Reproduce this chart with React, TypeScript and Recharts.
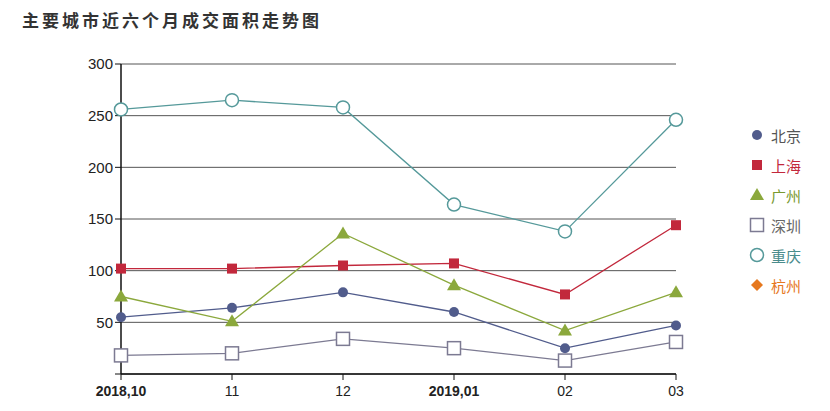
import { LineChart, Line, XAxis, YAxis, CartesianGrid } from "recharts";

const months = ["2018,10", "11", "12", "2019,01", "02", "03"];
const boldMonths = ["2018,10", "2019,01"];
const yTicks = [0, 50, 100, 150, 200, 250, 300];

const beijing = [55, 64, 79, 60, 25, 47];
const shanghai = [102, 102, 105, 107, 77, 144];
const guangzhou = [75, 51, 136, 86, 42, 79];
const shenzhen = [18, 20, 34, 25, 13, 31];
const chongqing = [256, 265, 258, 164, 138, 246];
const hangzhou: (number | null)[] = [null, null, null, null, null, null];

type Marker = "circle" | "square" | "triangle" | "hollowSquare" | "hollowCircle" | "diamond";

const series: { key: string; name: string; color: string; text: string; marker: Marker; values: (number | null)[] }[] = [
  { key: "bj", name: "北京", color: "#515c8c", text: "#555", marker: "circle", values: beijing },
  { key: "sh", name: "上海", color: "#c2283c", text: "#c2283c", marker: "square", values: shanghai },
  { key: "gz", name: "广州", color: "#8ba83c", text: "#7a9a30", marker: "triangle", values: guangzhou },
  { key: "sz", name: "深圳", color: "#7c7a92", text: "#666", marker: "hollowSquare", values: shenzhen },
  { key: "cq", name: "重庆", color: "#55999a", text: "#4a8c8c", marker: "hollowCircle", values: chongqing },
  { key: "hz", name: "杭州", color: "#e6781e", text: "#e6781e", marker: "diamond", values: hangzhou },
];

const data = months.map((m, i) => {
  const row: Record<string, string | number | null> = { month: m };
  series.forEach((s) => (row[s.key] = s.values[i]));
  return row;
});

const FONT = "'Liberation Sans', Arial, 'Noto Sans CJK SC', sans-serif";

function shape(marker: Marker, color: string, cx: number, cy: number, key?: string | number) {
  switch (marker) {
    case "circle":
      return <circle key={key} cx={cx} cy={cy} r={5} fill={color} />;
    case "square":
      return <rect key={key} x={cx - 5} y={cy - 5} width={10} height={10} fill={color} />;
    case "triangle":
      return <polygon key={key} points={`${cx},${cy - 7} ${cx + 7},${cy + 5} ${cx - 7},${cy + 5}`} fill={color} />;
    case "hollowSquare":
      return (
        <rect key={key} x={cx - 6.5} y={cy - 6.5} width={13} height={13} fill="#fff" stroke={color} strokeWidth={1.5} />
      );
    case "hollowCircle":
      return <circle key={key} cx={cx} cy={cy} r={6.5} fill="#fff" stroke={color} strokeWidth={1.5} />;
    case "diamond":
      return <polygon key={key} points={`${cx},${cy - 6} ${cx + 6},${cy} ${cx},${cy + 6} ${cx - 6},${cy}`} fill={color} />;
  }
}

const makeDot = (marker: Marker, color: string) => (props: any) => {
  const { cx, cy, index } = props;
  if (cx == null || cy == null || props.value == null) return <g key={index} />;
  return shape(marker, color, cx, cy, index);
};

const XTick = (props: any) => {
  const { x, y, payload } = props;
  const bold = boldMonths.includes(payload.value);
  return (
    <text x={x} y={y + 14} textAnchor="middle" fontSize={14} fontWeight={bold ? 700 : 400} fill="#222" fontFamily={FONT}>
      {payload.value}
    </text>
  );
};

export default function App() {
  return (
    <div style={{ position: "absolute", left: 0, top: 0, width: 830, height: 411, background: "#fff", fontFamily: FONT }}>
      <div
        style={{ position: "absolute", left: 22, top: 7, fontSize: 17, fontWeight: 700, letterSpacing: 3, color: "#333" }}
      >
        主要城市近六个月成交面积走势图
      </div>
      <LineChart width={830} height={411} data={data} margin={{ top: 64, right: 154, bottom: 12, left: 71 }}>
        <CartesianGrid vertical={false} stroke="#555" strokeWidth={1} />
        <XAxis
          dataKey="month"
          interval={0}
          axisLine={{ stroke: "#111", strokeWidth: 1.5 }}
          tickLine={{ stroke: "#111" }}
          tickSize={6}
          tick={<XTick />}
          height={25}
        />
        <YAxis
          domain={[0, 300]}
          ticks={yTicks}
          interval={0}
          width={50}
          axisLine={{ stroke: "#111", strokeWidth: 1.5 }}
          tickLine={{ stroke: "#111" }}
          tickSize={6}
          tickFormatter={(v: number) => (v === 0 ? "" : String(v))}
          tick={{ fontSize: 15, fill: "#222", fontFamily: FONT }}
        />
        {series.map((s) => (
          <Line
            key={s.key}
            dataKey={s.key}
            name={s.name}
            stroke={s.color}
            strokeWidth={1.3}
            dot={makeDot(s.marker, s.color)}
            activeDot={false}
            isAnimationActive={false}
          />
        ))}
      </LineChart>
      <div style={{ position: "absolute", left: 749, top: 120 }}>
        {series.map((s) => (
          <div key={s.key} style={{ display: "flex", alignItems: "center", height: 30, fontSize: 15, color: s.text }}>
            <svg width={16} height={16} style={{ marginRight: 6 }}>
              {shape(s.marker, s.color, 8, 8)}
            </svg>
            {s.name}
          </div>
        ))}
      </div>
    </div>
  );
}
